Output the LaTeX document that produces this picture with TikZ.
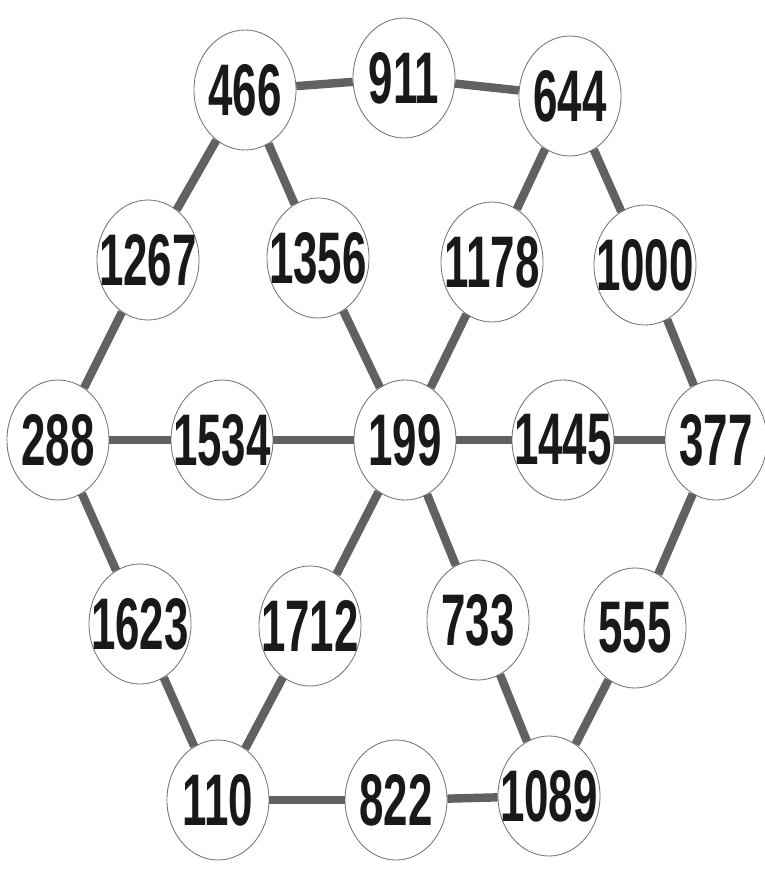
\documentclass[tikz,border=0pt]{standalone}
\usepackage{graphicx}
\usepackage{fontspec}
\setsansfont{Liberation Sans}
\usetikzlibrary{shapes.geometric}

\newcommand{\hand}[1]{\scalebox{0.78}[1.3]{#1}}

\begin{document}
\begin{tikzpicture}[
        x = 0.025cm, y = -0.025cm,
        disc/.style = {ellipse, draw = black!55, line width = 0.6pt, fill = white, minimum width = 2.55cm, minimum height = 3cm, inner sep = 0pt},
        every label/.style = {font = \sffamily\bfseries\fontsize{40}{40}\selectfont, text = black!90},
        link/.style = {draw = black!62, line width = 6pt}
    ]

    \useasboundingbox (0,0) rectangle (764,873);

    % top row
    \node[disc, label = center:\hand{466}] (n466) at (245, 90) {};
    \node[disc, label = center:\hand{911}] (n911) at (404, 78) {};
    \node[disc, label = center:\hand{644}] (n644) at (570, 96) {};

    % second row
    \node[disc, label = center:\hand{1267}] (n1267) at (148, 260) {};
    \node[disc, label = center:\hand{1356}] (n1356) at (318, 258) {};
    \node[disc, label = center:\hand{1178}] (n1178) at (492, 262) {};
    \node[disc, label = center:\hand{1000}] (n1000) at (645, 265) {};

    % middle row
    \node[disc, label = center:\hand{288}] (n288) at (58, 440) {};
    \node[disc, label = center:\hand{1534}] (n1534) at (222, 440) {};
    \node[disc, label = center:\hand{199}] (n199) at (405, 440) {};
    \node[disc, label = center:\hand{1445}] (n1445) at (563, 440) {};
    \node[disc, label = center:\hand{377}] (n377) at (716, 440) {};

    % fourth row
    \node[disc, label = center:\hand{1623}] (n1623) at (140, 624) {};
    \node[disc, label = center:\hand{1712}] (n1712) at (310, 626) {};
    \node[disc, label = center:\hand{733}] (n733) at (478, 620) {};
    \node[disc, label = center:\hand{555}] (n555) at (635, 628) {};

    % bottom row
    \node[disc, label = center:\hand{110}] (n110) at (218, 800) {};
    \node[disc, label = center:\hand{822}] (n822) at (396, 800) {};
    \node[disc, label = center:\hand{1089}] (n1089) at (549, 796) {};

    \path[link]
        (n466) edge (n911)
        (n911) edge (n644)
        (n466) edge (n1267)
        (n466) edge (n1356)
        (n644) edge (n1178)
        (n644) edge (n1000)
        (n1267) edge (n288)
        (n1356) edge (n199)
        (n1178) edge (n199)
        (n1000) edge (n377)
        (n288) edge (n1534)
        (n1534) edge (n199)
        (n199) edge (n1445)
        (n1445) edge (n377)
        (n288) edge (n1623)
        (n199) edge (n1712)
        (n199) edge (n733)
        (n377) edge (n555)
        (n1623) edge (n110)
        (n1712) edge (n110)
        (n733) edge (n1089)
        (n555) edge (n1089)
        (n110) edge (n822)
        (n822) edge (n1089);
\end{tikzpicture}
\end{document}
